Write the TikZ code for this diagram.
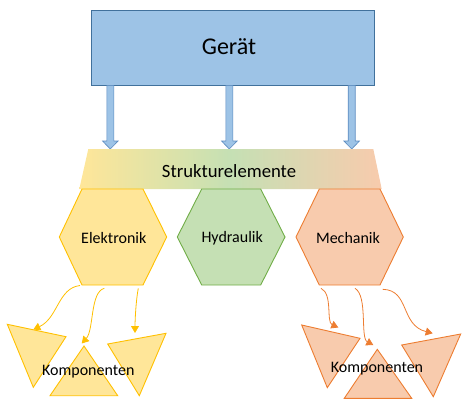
\documentclass[tikz,border=0pt]{standalone}
\usepackage{fontspec}
\setmainfont{Carlito}
\usetikzlibrary{arrows.meta}
\definecolor{boxblue}{HTML}{9DC3E6}
\definecolor{boxline}{HTML}{41719C}
\definecolor{arrline}{HTML}{5B8BC0}
\definecolor{yfill}{HTML}{FFE699}
\definecolor{yline}{HTML}{FFC000}
\definecolor{gfill}{HTML}{C5E0B4}
\definecolor{gline}{HTML}{70AD47}
\definecolor{ofill}{HTML}{F8CBAD}
\definecolor{oline}{HTML}{ED7D31}
\tikzset{
  blockarrow/.style={draw=arrline, fill=boxblue, line width=0.6pt, line join=miter},
  hexy/.style={draw=yline, fill=yfill, line width=0.9pt},
  hexg/.style={draw=gline, fill=gfill, line width=0.9pt},
  hexo/.style={draw=oline, fill=ofill, line width=0.9pt},
  lbl/.style={font=\fontsize{16}{19}\selectfont, inner sep=0pt},
  curvy/.style={line width=0.8pt, -{Triangle[length=7pt,width=8pt]}},
}
\begin{document}
\begin{tikzpicture}[x=1pt,y=-1pt]
\useasboundingbox (0,0) rectangle (471,410);
% Geraet box
\node[draw=boxline, fill=boxblue, line width=1pt, minimum width=283.4pt, minimum height=75.3pt, inner sep=0pt] (geraet) at (233,47.7) {};
\node[font=\fontsize{24}{29}\selectfont, inner sep=0pt] (geraettxt) at (229,46.5) {Gerät};
% block arrows
\foreach \x in {110.3,229.3,351.7}{
  \draw[blockarrow] (\x-3.5,85.3) -- (\x-3.5,141) -- (\x-7.8,141) -- (\x,149) -- (\x+7.8,141) -- (\x+3.5,141) -- (\x+3.5,85.3) -- cycle;
}
% Strukturelemente trapezoid
\shade[left color=yfill, right color=ofill, middle color=gfill] (88.3,149) -- (373.3,149) -- (381.7,189) -- (79.3,189) -- cycle;
\node[font=\fontsize{18.7}{22}\selectfont, inner sep=0pt] (struktur) at (229,171.5) {Strukturelemente};
% hexagons
\draw[hexy] (82,189) -- (143,189) -- (166.7,237) -- (143,285) -- (82,285) -- (59.3,237) -- cycle;
\node[lbl] (elek) at (113.8,238) {Elektronik};
\draw[hexg] (201.7,189) -- (260.7,189) -- (285,237) -- (260.7,285) -- (201.7,285) -- (177.3,237) -- cycle;
\node[lbl] (hydr) at (232.2,238) {Hydraulik};
\draw[hexo] (319.3,189) -- (380,189) -- (403.3,237) -- (380,285) -- (319.3,285) -- (296,237) -- cycle;
\node[lbl] (mech) at (348,238) {Mechanik};
% Elektronik components
\draw[hexy] (7.3,324.3) -- (66,336.7) -- (33.3,387.3) -- cycle;
\draw[hexy] (84,346) -- (117.7,395.7) -- (50,395.7) -- cycle;
\draw[hexy] (107.7,344) -- (166,333.3) -- (139.3,395.7) -- cycle;
\node[lbl] (kompA) at (88.3,372) {Komponenten};
% Mechanik components
\draw[hexo] (301.7,325) -- (360,338.3) -- (327.3,387.7) -- cycle;
\draw[hexo] (377.3,349.3) -- (411.7,398.3) -- (344.3,398.3) -- cycle;
\draw[hexo] (401.7,345) -- (460.7,334) -- (433.3,396.7) -- cycle;
\node[lbl] (kompB) at (377,368.5) {Komponenten};
% curved arrows (yellow)
\coordinate (ya1) at (80,285.5);
\coordinate (ya2) at (104.3,288.3);
\coordinate (ya3) at (138.3,288.3);
\coordinate (yt1) at (33.3,329.5);
\coordinate (yt2) at (81.7,343.5);
\coordinate (yt3) at (135,333);
\draw[curvy, yline] (ya1) .. controls (58,288) and (58,318) .. (yt1);
\draw[curvy, yline] (ya2) .. controls (90,292) and (94,330) .. (yt2);
\draw[curvy, yline] (ya3) .. controls (136,300) and (135,320) .. (yt3);
% curved arrows (orange)
\coordinate (oa1) at (321,288.3);
\coordinate (oa2) at (355,288.3);
\coordinate (oa3) at (382.7,289.3);
\coordinate (ot1) at (338.3,327.5);
\coordinate (ot2) at (373.3,345);
\coordinate (ot3) at (432.7,333.3);
\draw[curvy, oline] (oa1) .. controls (333,294) and (326,322) .. (ot1);
\draw[curvy, oline] (oa2) .. controls (368,296) and (360,338) .. (ot2);
\draw[curvy, oline] (oa3) .. controls (410,290) and (400,325) .. (ot3);
\end{tikzpicture}
\end{document}
